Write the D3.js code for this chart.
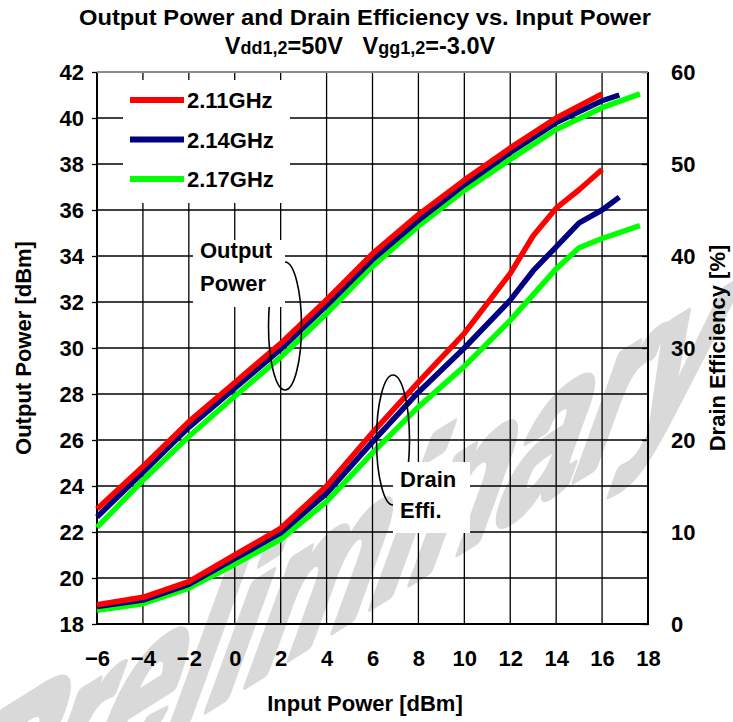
<!DOCTYPE html>
<html>
<head>
<meta charset="utf-8">
<title>Output Power and Drain Efficiency vs. Input Power</title>
<script src="https://d3js.org/d3.v7.min.js"></script>
<style>
    body { margin: 0; background: #fff; }
    text { font-family: "Liberation Sans", Arial, sans-serif; font-weight: bold; fill: #000; }
    .tick-label { font-size: 22px; }
    .axis-title { font-size: 22px; }
</style>
</head>
<body>
<div id="vis_container"></div>
<script>
    // input power (dBm) where the curves were read
    var pin = [-6, -4, -2, 0, 2, 4, 6, 8, 10, 12, 14, 16];

    // output power [dBm] (left axis)
    var pout_211 = [23.0, 24.85, 26.8, 28.5, 30.2, 32.1, 34.1, 35.8, 37.3, 38.7, 40.0, 41.05];
    var pout_214 = [22.65, 24.6, 26.55, 28.25, 29.95, 31.85, 33.85, 35.55, 37.1, 38.5, 39.8, 40.75, 41.0];
    var pout_217 = [22.2, 24.25, 26.15, 27.9, 29.6, 31.5, 33.55, 35.3, 36.85, 38.2, 39.5, 40.45, 41.05];

    // drain efficiency [%] (right axis)
    var pin_de211 = [-6, -4, -2, 0, 2, 4, 6, 8, 10, 12, 13, 14, 15, 16];
    var de_211 = [2.1, 2.9, 4.6, 7.5, 10.4, 15.0, 20.8, 26.3, 31.6, 38.1, 42.2, 45.2, 47.2, 49.4];
    var pin_de214 = [-6, -4, -2, 0, 2, 4, 6, 8, 10, 12, 13, 14, 15, 16, 16.75];
    var de_214 = [1.9, 2.6, 4.3, 7.1, 9.9, 14.2, 19.8, 25.2, 30.0, 35.2, 38.4, 41.0, 43.6, 45.0, 46.4];
    var pin_de217 = [-6, -4, -2, 0, 2, 4, 6, 8, 10, 12, 14, 15, 16, 17.65];
    var de_217 = [1.5, 2.2, 3.9, 6.5, 9.2, 13.3, 18.6, 23.6, 28.0, 33.0, 38.6, 40.9, 41.9, 43.3];

    // last input points of the two upper curves
    var pin_214 = pin.concat([16.75]);
    var pin_217 = pin.concat([17.65]);

    var freqs = ["2.11GHz", "2.14GHz", "2.17GHz"];
    var colors = ["#ff0000", "#000080", "#00ff00"];

    var xTicks = d3.range(-6, 19, 2);
    var yLeftTicks = d3.range(18, 43, 2);
    var yRightTicks = d3.range(0, 61, 10);

    var width = 733;
    var height = 722;
    var plot = {left: 97, right: 648, top: 72, bottom: 624};

    var svg = d3.select("#vis_container")
            .append("svg")
            .attr("width", width)
            .attr("height", height);

    svg.append("rect").attr("width", width).attr("height", height).attr("fill", "#fff");

    var x = d3.scaleLinear().domain([-6, 18]).range([plot.left, plot.right]);
    var yL = d3.scaleLinear().domain([18, 42]).range([plot.bottom, plot.top]);
    var yR = d3.scaleLinear().domain([0, 60]).range([plot.bottom, plot.top]);

    //watermark, slanted: baseline climbs ~32deg, strokes lean right ~20deg and are stretched
    var th = 32 * Math.PI / 180, ph = 20 * Math.PI / 180, k = 1.5;
    svg.append("text")
            .attr("transform", "matrix(" + Math.cos(th) + "," + (-Math.sin(th)) + "," + (-Math.sin(ph) * k) + "," + (Math.cos(ph) * k) + ",-68,881)")
            .style("font-size", "166px")
            .style("fill", "#d9d9d9")
            .style("stroke", "#d9d9d9")
            .style("stroke-width", "8px")
            .style("stroke-linejoin", "round")
            .text("Preliminary");

    //grid
    svg.append("g")
            .selectAll("line")
            .data(xTicks)
            .enter().append("line")
            .attr("x1", function(d) { return x(d); })
            .attr("x2", function(d) { return x(d); })
            .attr("y1", plot.top)
            .attr("y2", plot.bottom)
            .attr("stroke", "#000")
            .attr("stroke-width", 1.3);

    svg.append("g")
            .selectAll("line")
            .data(yLeftTicks)
            .enter().append("line")
            .attr("x1", plot.left)
            .attr("x2", plot.right)
            .attr("y1", function(d) { return yL(d); })
            .attr("y2", function(d) { return yL(d); })
            .attr("stroke", "#000")
            .attr("stroke-width", 1.3);

    //axes
    var leftAxis = svg.append("g")
            .attr("transform", "translate(" + plot.left + ",0)")
            .call(d3.axisLeft(yL).tickValues(yLeftTicks).tickSize(5).tickPadding(8));
    var rightAxis = svg.append("g")
            .attr("transform", "translate(" + plot.right + ",0)")
            .call(d3.axisRight(yR).tickValues(yRightTicks).tickSize(-6).tickPadding(23));
    var bottomAxis = svg.append("g")
            .attr("transform", "translate(0," + plot.bottom + ")")
            .call(d3.axisBottom(x).tickValues(xTicks).tickSize(0).tickPadding(26));

    [leftAxis, rightAxis, bottomAxis].forEach(function(a) {
        a.select(".domain").remove();
        a.selectAll("line").attr("stroke", "#000").attr("stroke-width", 1.3);
        a.selectAll("text").attr("class", "tick-label");
        a.attr("font-family", null).attr("font-size", null);
    });

    //plot frame
    svg.append("path")
            .attr("d", "M" + plot.right + "," + plot.top + "V" + plot.bottom + "H" + plot.left + "V" + plot.top)
            .attr("fill", "none").attr("stroke", "#000").attr("stroke-width", 2);
    svg.append("line")
            .attr("x1", plot.left).attr("x2", plot.right)
            .attr("y1", plot.top).attr("y2", plot.top)
            .attr("stroke", "#8c8c8c").attr("stroke-width", 2);

    //curves
    var series = [
        {xs: pin, ys: pout_211, y: yL, c: 0},
        {xs: pin_214, ys: pout_214, y: yL, c: 1},
        {xs: pin_217, ys: pout_217, y: yL, c: 2},
        {xs: pin_de211, ys: de_211, y: yR, c: 0},
        {xs: pin_de214, ys: de_214, y: yR, c: 1},
        {xs: pin_de217, ys: de_217, y: yR, c: 2}
    ];
    // draw green first so red stays on top like the original
    [2, 1, 0].forEach(function(ci) {
        series.filter(function(s) { return s.c == ci; }).forEach(function(s) {
            var line = d3.line()
                    .x(function(d, i) { return x(s.xs[i]); })
                    .y(function(d) { return s.y(d); });
            svg.append("path")
                    .attr("d", line(s.ys))
                    .attr("fill", "none")
                    .attr("stroke", colors[s.c])
                    .attr("stroke-width", 5.5)
                    .attr("stroke-linejoin", "round");
        });
    });

    //annotations: ellipses then white label boxes
    svg.append("ellipse").attr("cx", 285).attr("cy", 326).attr("rx", 16.5).attr("ry", 64)
            .attr("fill", "none").attr("stroke", "#000").attr("stroke-width", 1.6);
    svg.append("ellipse").attr("cx", 393).attr("cy", 440).attr("rx", 16.5).attr("ry", 65)
            .attr("fill", "none").attr("stroke", "#000").attr("stroke-width", 1.6);

    svg.append("rect").attr("x", 193).attr("y", 240).attr("width", 92).attr("height", 67).attr("fill", "#fff");
    svg.append("text").attr("x", 200).attr("y", 258).style("font-size", "22px").text("Output");
    svg.append("text").attr("x", 200).attr("y", 291).style("font-size", "22px").text("Power");

    svg.append("rect").attr("x", 393).attr("y", 462).attr("width", 77).attr("height", 71).attr("fill", "#fff");
    svg.append("text").attr("x", 400).attr("y", 487).style("font-size", "22px").text("Drain");
    svg.append("text").attr("x", 400).attr("y", 518).style("font-size", "22px").text("Effi.");

    //legend
    var legend = svg.append("g");
    legend.append("rect").attr("x", 123).attr("y", 80).attr("width", 167).attr("height", 123).attr("fill", "#fff");
    freqs.forEach(function(f, i) {
        var ly = 100 + i * 39.5;
        legend.append("line").attr("x1", 130).attr("x2", 184).attr("y1", ly).attr("y2", ly)
                .attr("stroke", colors[i]).attr("stroke-width", 6);
        legend.append("text").attr("x", 187).attr("y", ly + 8).style("font-size", "22px").text(f);
    });

    //titles
    svg.append("text")
            .attr("x", 365).attr("y", 25)
            .attr("text-anchor", "middle")
            .attr("textLength", 572).attr("lengthAdjust", "spacingAndGlyphs")
            .style("font-size", "22px")
            .text("Output Power and Drain Efficiency vs. Input Power");

    var sub = svg.append("text").attr("x", 360).attr("y", 54).attr("text-anchor", "middle").style("font-size", "23.5px");
    sub.append("tspan").text("V");
    sub.append("tspan").style("font-size", "18px").text("dd1,2");
    sub.append("tspan").text("=50V\u00a0\u00a0\u00a0V");
    sub.append("tspan").style("font-size", "18px").text("gg1,2");
    sub.append("tspan").text("=-3.0V");

    svg.append("text")
            .attr("class", "axis-title")
            .attr("x", 365).attr("y", 711)
            .attr("text-anchor", "middle")
            .text("Input Power [dBm]");

    svg.append("text")
            .attr("class", "axis-title")
            .attr("transform", "translate(31,348) rotate(-90)")
            .attr("text-anchor", "middle")
            .text("Output Power [dBm]");

    svg.append("text")
            .attr("class", "axis-title")
            .attr("transform", "translate(725,348) rotate(-90)")
            .attr("text-anchor", "middle")
            .text("Drain Efficiency [%]");
</script>
</body>
</html>
